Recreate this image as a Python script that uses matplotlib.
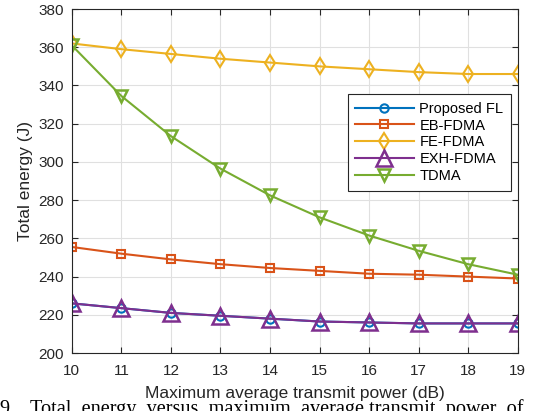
import matplotlib.pyplot as plt

# Data
power_db = [10, 11, 12, 13, 14, 15, 16, 17, 18, 19]
proposed_fl = [226, 223.5, 221, 219.5, 218, 216.5, 216, 215.5, 215.5, 215.5]
eb_fdma = [255.5, 252, 249, 246.5, 244.5, 243, 241.5, 241, 240, 239]
fe_fdma = [362, 359, 356.5, 354, 352, 350, 348.5, 347, 346, 346]
exh_fdma = [226, 223.5, 221, 219.5, 218, 216.5, 216, 215.5, 215.5, 215.5]
tdma = [361, 334.5, 313.5, 296.5, 282.5, 271, 261.5, 253.5, 246.5, 241]

plt.rcParams['font.family'] = ['Liberation Sans', 'DejaVu Sans']

fig = plt.figure(figsize=(5.36, 4.11), dpi=100)
ax = fig.add_axes([0.134, 0.141, 0.832, 0.837])

lw = 1.5
ax.plot(power_db, proposed_fl, color='#0072BD', marker='o', mfc='none', ms=6, mew=1.5, lw=lw, label='Proposed FL')
ax.plot(power_db, eb_fdma, color='#D95319', marker='s', mfc='none', ms=6, mew=1.5, lw=lw, label='EB-FDMA')
ax.plot(power_db, fe_fdma, color='#EDB120', marker='d', mfc='none', ms=8, mew=1.5, lw=lw, label='FE-FDMA')
ax.plot(power_db, exh_fdma, color='#7E2F8E', marker='^', mfc='none', ms=11, mew=1.8, lw=lw, label='EXH-FDMA')
ax.plot(power_db, tdma, color='#77AC30', marker='v', mfc='none', ms=9, mew=1.8, lw=lw, label='TDMA')

ax.set_xlim(10, 19)
ax.set_ylim(200, 380)
ax.set_xticks(power_db)
ax.set_yticks(range(200, 381, 20))
ax.tick_params(direction='in', top=True, right=True, labelsize=11, length=4, colors='#262626')
ax.tick_params(axis='x', pad=8)
ax.tick_params(axis='y', pad=5.5)
for s in ax.spines.values():
    s.set_color('#262626')
    s.set_linewidth(0.8)
ax.grid(True, color='#e0e0e0', linewidth=0.8)
ax.set_axisbelow(True)

ax.set_xlabel('Maximum average transmit power (dB)', fontsize=12.5, labelpad=6, color='#262626')
ax.set_ylabel('Total energy (J)', fontsize=12.5, labelpad=4, color='#262626')

leg = ax.legend(loc='upper right', bbox_to_anchor=(0.984, 0.752), borderaxespad=0,
                fontsize=10.5, fancybox=False, framealpha=1, edgecolor='#262626',
                handlelength=4.0, labelspacing=0.2, borderpad=0.5, handletextpad=0.4)
leg.get_frame().set_linewidth(0.8)

# cut-off caption below the figure (justified line in the source page)
fig.text(-0.002, -0.008, '9.', family=['Liberation Serif'], fontsize=14.6, va='baseline', ha='left')
fig.text(0.056, -0.008, 'Total  energy  versus  maximum  average transmit  power  of',
         family=['Liberation Serif'], fontsize=14.6, va='baseline', ha='left')

fig.savefig('out.png', dpi=100)
